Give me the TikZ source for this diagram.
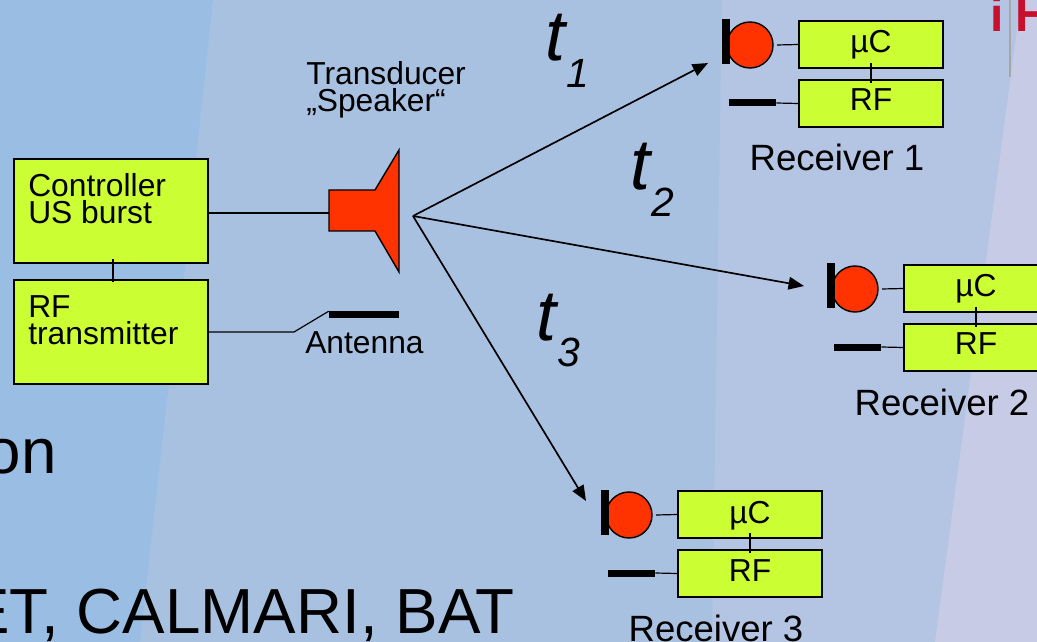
\documentclass[tikz,border=0pt]{standalone}
\usepackage{fontspec}
\setmainfont{Liberation Sans}
\usetikzlibrary{arrows.meta}
\definecolor{bandleft}{HTML}{9ABDE3}
\definecolor{bandmid}{HTML}{A8C1E1}
\definecolor{bandright}{HTML}{B4C5E3}
\definecolor{bandfar}{HTML}{C8CBE5}
\definecolor{boxgreen}{HTML}{CCFF33}
\definecolor{hornred}{HTML}{FF3300}
\definecolor{logored}{HTML}{C8102E}
\tikzset{
  lbl/.style={inner sep=0pt,font=\fontsize{22.6}{19}\selectfont,align=left},
  reclbl/.style={inner sep=0pt,font=\fontsize{26}{26}\selectfont},
  bigtxt/.style={inner sep=0pt,font=\fontsize{45.3}{45.3}\selectfont},
  logotxt/.style={inner sep=0pt,text=logored,font=\fontsize{34}{34}\selectfont\bfseries},
  box/.style={draw,line width=1pt,fill=boxgreen,inner sep=0pt},
  bar/.style={fill=black,inner sep=0pt},
  wire/.style={line width=0.85pt},
  ray/.style={line width=1.2pt,-{Triangle[length=11pt,width=9pt]}}
}
\newcommand{\tlabel}[1]{\fontsize{51}{51}\selectfont\itshape t\kern1pt\raisebox{-19pt}{\fontsize{29}{29}\selectfont #1}}
\begin{document}
\begin{tikzpicture}[x=0.025cm,y=-0.025cm]
\useasboundingbox (0,0) rectangle (1037,642);
\clip (0,0) rectangle (1037,642);
% background
\fill[bandmid] (0,0) rectangle (1037,642);
\fill[bandleft] (0,0) -- (213,0) -- (197,150) -- (185,267) -- (167,400) -- (140,642) -- (0,642) -- cycle;
\fill[bandright] (722,0) -- (1037,0) -- (1037,642) -- (712,642) -- cycle;
\fill[bandfar] (1021,0) -- (1037,0) -- (1037,642) -- (935,642) -- cycle;
\draw[gray!70,line width=0.8pt] (1010,0) -- (1010,77);
\node[logotxt,anchor=base] (logoi) at (997,32) {i};
\node[logotxt,anchor=base west] (logoh) at (1015,32) {H};
% left text
\node[bigtxt,anchor=base east] (txta) at (57,473) {on};
\node[bigtxt,anchor=base east] (txtb) at (515,633) {ET, CALMARI, BAT};
% sender
\node[box,minimum width=194*0.025cm,minimum height=104*0.025cm] (ctl) at (111,211) {};
\node[box,minimum width=194*0.025cm,minimum height=104*0.025cm] (rft) at (111,332) {};
\node[lbl,anchor=west] (ctltxt) at (28,198.5) {Controller\\US burst};
\node[lbl,anchor=west] (rfttxt) at (28,320) {RF\\transmitter};
\draw[wire,shorten <=-3.5pt,shorten >=-2pt] (ctl.south) ++(2,0) coordinate (ctlb) -- (ctlb |- rft.north);
\fill[hornred,draw=black,line width=1pt] (329,190) -- (375,190) -- (399,150) -- (399,272) -- (375,231) -- (329,231) -- cycle;
\coordinate (horn) at (329,213);
\coordinate (src) at (413,216);
\draw[wire] (ctl.east |- horn) -- (horn);
\node[bar,minimum width=70*0.025cm,minimum height=7*0.025cm] (ant) at (364,315) {};
\coordinate (knee) at (294,332);
\draw[wire] (rft.east) -- (knee) -- (ant.north west);
\node[lbl,anchor=west] (anttxt) at (305,343) {Antenna};
\node[lbl,anchor=west] (spk) at (306,89.5) {Transducer\\„Speaker“};
% receivers
\foreach \rx/\ry/\rnum/\ax/\ay in {0/0/1/708/63,105/244/2/804/286,-121/470/3/586/501}{
  \begin{scope}[shift={(\rx,\ry)}]
    \node[draw,line width=1pt,fill=hornred,circle,inner sep=0pt,minimum size=46*0.025cm] (cap\rnum) at (750,45) {};
    \node[bar,minimum width=8*0.025cm,minimum height=45*0.025cm] (mic\rnum) at (726,42) {};
    \node[box,minimum width=144*0.025cm,minimum height=47*0.025cm] (uc\rnum) at (871,44.5) {};
    \node[box,minimum width=144*0.025cm,minimum height=47*0.025cm] (rf\rnum) at (871,103.5) {};
    \node[inner sep=0pt,anchor=base,font=\fontsize{22.6}{22.6}\selectfont] (uct\rnum) at (871,53) {µC};
    \node[inner sep=0pt,anchor=base,font=\fontsize{22.6}{22.6}\selectfont] (rft\rnum) at (871,111) {RF};
    \node[bar,minimum width=47*0.025cm,minimum height=7*0.025cm] (rant\rnum) at (752.5,103) {};
    \node[reclbl,anchor=base] (rec\rnum) at (837,171) {Receiver \rnum};
    \draw[wire] (777,45) -- (uc\rnum.west);
    \draw[wire] (rant\rnum.east) -- (rf\rnum.west);
    \draw[wire] (871,63) -- (871,83);
  \end{scope}
  \coordinate (ray\rnum) at (\ax,\ay);
  \draw[ray] (src) -- (ray\rnum);
}
% times
\node[inner sep=0pt,anchor=base west] (t1) at (545,61) {\tlabel{1}};
\node[inner sep=0pt,anchor=base west] (t2) at (630,190) {\tlabel{2}};
\node[inner sep=0pt,anchor=base west] (t3) at (536,340) {\tlabel{3}};
\end{tikzpicture}
\end{document}
